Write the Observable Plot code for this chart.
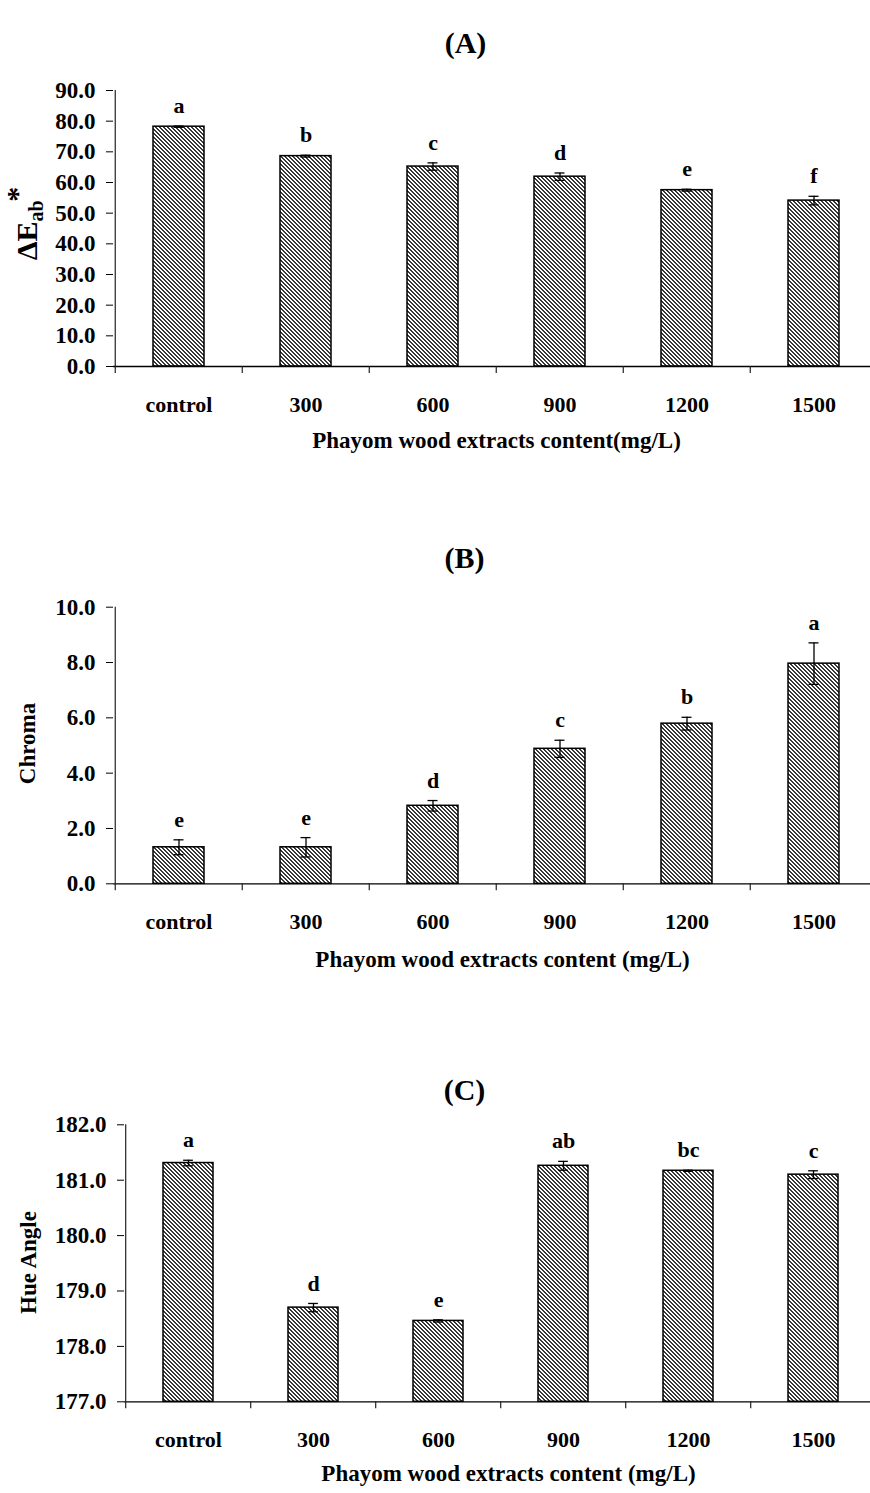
<!DOCTYPE html>
<html>
<head>
<meta charset="utf-8">
<script src="https://cdn.jsdelivr.net/npm/d3@7"></script>
<script src="https://cdn.jsdelivr.net/npm/@observablehq/plot@0.6"></script>
<style>
  body { margin: 0; background: #fff; }
  #charts svg { display: block; }
</style>
</head>
<body>
<!-- shared diagonal hatch used by every bar: 2px dark, 2px light, stepping down to the right -->
<svg width="0" height="0" style="position:absolute">
  <defs>
    <pattern id="hatch" patternUnits="userSpaceOnUse" width="4" height="4">
      <rect width="4" height="4" fill="#fff"></rect>
      <g fill="#383838" shape-rendering="crispEdges">
        <rect x="0" y="0" width="2" height="1"></rect>
        <rect x="1" y="1" width="2" height="1"></rect>
        <rect x="2" y="2" width="2" height="1"></rect>
        <rect x="3" y="3" width="1" height="1"></rect>
        <rect x="0" y="3" width="1" height="1"></rect>
      </g>
    </pattern>
  </defs>
</svg>
<div id="charts"></div>
<script>
const categories = ["control", "300", "600", "900", "1200", "1500"];

// (A) total colour difference
const deltaE = [78.2, 68.6, 65.2, 61.9, 57.5, 54.1];
const deltaEErr = [0.2, 0.3, 1.2, 1.2, 0.3, 1.4];
const deltaELetters = ["a", "b", "c", "d", "e", "f"];
const deltaETicks = [0, 10, 20, 30, 40, 50, 60, 70, 80, 90];

// (B) chroma
const chroma = [1.32, 1.32, 2.82, 4.88, 5.79, 7.96];
const chromaErr = [0.27, 0.35, 0.19, 0.31, 0.23, 0.75];
const chromaLetters = ["e", "e", "d", "c", "b", "a"];
const chromaTicks = [0, 2, 4, 6, 8, 10];

// (C) hue angle
const hueAngle = [181.31, 178.70, 178.46, 181.26, 181.17, 181.10];
const hueErr = [0.05, 0.075, 0.02, 0.08, 0.01, 0.07];
const hueLetters = ["a", "d", "e", "ab", "bc", "c"];
const hueTicks = [177, 178, 179, 180, 181, 182];

const FONT = "'Liberation Serif', 'Times New Roman', serif";

function panel(o) {
  const rows = categories.map((c, i) => ({category: c, value: o.values[i], err: o.errors[i], letter: o.letters[i]}));
  const step = (o.xRight - o.marginLeft) / categories.length;
  const bw = 0.4 * step;
  const base = o.yDomain[0];
  const frameCx = (o.marginLeft + 870) / 2;
  const frameCy = (o.marginTop + (o.height - o.marginBottom)) / 2;
  const capInset = (bw - 10) / 2;
  return Plot.plot({
    width: 870,
    height: o.height,
    marginTop: o.marginTop,
    marginBottom: o.marginBottom,
    marginLeft: o.marginLeft,
    marginRight: 0,
    style: {fontFamily: FONT, background: "white", color: "black", overflow: "visible"},
    x: {domain: categories, range: [o.marginLeft, o.xRight], paddingInner: 0.6, paddingOuter: 0.3},
    y: {domain: o.yDomain},
    marks: [
      Plot.barY(rows, {x: "category", y1: base, y2: "value", fill: "url(#hatch)", stroke: "black", strokeWidth: 1.5}),
      // error bars with caps
      Plot.ruleX(rows, {x: "category", y1: d => d.value - d.err, y2: d => d.value + d.err, stroke: "black", strokeWidth: 1.3}),
      Plot.tickY(rows, {x: "category", y: d => d.value + d.err, inset: capInset, stroke: "black", strokeWidth: 1.3}),
      Plot.tickY(rows, {x: "category", y: d => d.value - d.err, inset: capInset, stroke: "black", strokeWidth: 1.3}),
      // significance letters
      Plot.text(rows, {x: "category", y: d => d.value + d.err, text: "letter", dy: -20, fontSize: 22, fontWeight: "bold"}),
      // axis lines and category boundary ticks
      Plot.ruleY([base], {stroke: "black", strokeWidth: 1.3}),
      Plot.ruleX([categories[0]], {x: d => d, y1: o.yDomain[0], y2: o.yDomain[1], dx: -step / 2, stroke: "#222", strokeWidth: 1.2}),
      Plot.ruleX(categories, {x: d => d, y1: base, y2: base, dx: -step / 2, insetBottom: -7, stroke: "#222", strokeWidth: 1.2}),
      Plot.axisY({ticks: o.yTicks, tickFormat: d3.format(".1f"), tickSize: 7, tickPadding: 11, fontSize: 23, fontWeight: "bold", label: null}),
      Plot.axisX({tickSize: 0, tickPadding: 30, fontSize: 22, fontWeight: "bold", label: null}),
      // titles
      Plot.text([o.xTitle], {frameAnchor: "bottom", dy: o.xTitleDy, dx: o.xTitleX - frameCx, fontSize: 23, fontWeight: "bold"}),
      Plot.text([o.title], {frameAnchor: "top", dy: o.titleY - o.marginTop, dx: o.titleX - frameCx, fontSize: 30, fontWeight: "bold"}),
      Plot.text([o.yLabel], {frameAnchor: "left", textAnchor: "middle", rotate: -90, dx: o.yLabelX - o.marginLeft, dy: o.yLabelY - frameCy, fontSize: o.yLabelSize, fontWeight: "bold"})
    ]
  });
}

const charts = document.getElementById("charts");

const chartA = panel({
  values: deltaE, errors: deltaEErr, letters: deltaELetters,
  yDomain: [0, 90], yTicks: deltaETicks,
  height: 490, marginTop: 90, marginBottom: 124, marginLeft: 113, xRight: 878,
  title: "(A)", titleY: 31, titleX: 465,
  xTitle: "Phayom wood extracts content(mg/L)", xTitleDy: 81, xTitleX: 496,
  yLabel: "ΔEab*", yLabelX: 27, yLabelY: 223, yLabelSize: 30
});
charts.appendChild(chartA);

// subscript / superscript in the ΔE*ab label
d3.select(chartA).selectAll("text").filter(function () { return this.textContent === "ΔEab*"; })
  .each(function () {
    const t = d3.select(this);
    t.text(null);
    t.append("tspan").text("ΔE");
    t.append("tspan").attr("font-size", 20).attr("dy", "0.3em").text("ab");
    t.append("tspan").attr("font-size", 30).attr("dx", "-0.05em").attr("dy", "-0.55em").text("*");
  });

const chartB = panel({
  values: chroma, errors: chromaErr, letters: chromaLetters,
  yDomain: [0, 10], yTicks: chromaTicks,
  height: 490, marginTop: 116.7, marginBottom: 96.7, marginLeft: 113, xRight: 878,
  title: "(B)", titleY: 56, titleX: 464,
  xTitle: "Phayom wood extracts content (mg/L)", xTitleDy: 83, xTitleX: 502,
  yLabel: "Chroma", yLabelX: 27, yLabelY: 253, yLabelSize: 23
});
charts.appendChild(chartB);

const chartC = panel({
  values: hueAngle, errors: hueErr, letters: hueLetters,
  yDomain: [177, 182], yTicks: hueTicks,
  height: 513, marginTop: 144.3, marginBottom: 91.7, marginLeft: 124, xRight: 877.6,
  title: "(C)", titleY: 98, titleX: 464,
  xTitle: "Phayom wood extracts content (mg/L)", xTitleDy: 79, xTitleX: 508,
  yLabel: "Hue Angle", yLabelX: 28, yLabelY: 282, yLabelSize: 23
});
charts.appendChild(chartC);
</script>
</body>
</html>
